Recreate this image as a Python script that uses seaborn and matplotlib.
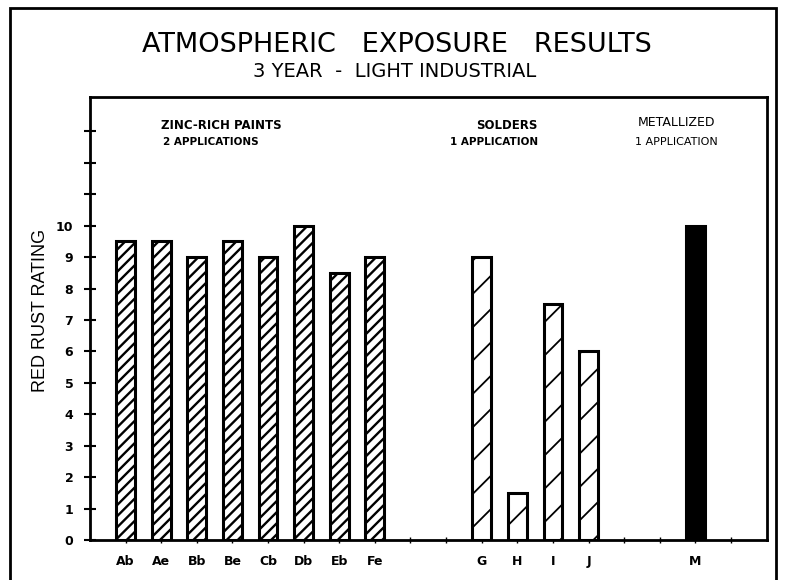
import matplotlib
matplotlib.use("Agg")
import matplotlib.pyplot as plt
import seaborn as sns
import pandas as pd
from matplotlib.patches import Rectangle

# Data
coatings = ["Ab", "Ae", "Bb", "Be", "Cb", "Db", "Eb", "Fe", "G", "H", "I", "J", "M"]
slots = [0, 1, 2, 3, 4, 5, 6, 7, 10, 11, 12, 13, 16]
rating = [9.5, 9.5, 9, 9.5, 9, 10, 8.5, 9, 9, 1.5, 7.5, 6, 10]
group = ["zinc"] * 8 + ["solder"] * 4 + ["metal"]

sns.set_style("ticks")
plt.rcParams["font.family"] = ["DejaVu Sans"]
plt.rcParams["hatch.linewidth"] = 1.7
for k in ["text.color", "axes.labelcolor", "xtick.color", "ytick.color", "axes.edgecolor"]:
    plt.rcParams[k] = "black"

df = pd.DataFrame({"slot": slots, "rating": rating, "coating": coatings, "group": group})

fig = plt.figure(figsize=(7.85, 5.8), dpi=100)
ax = fig.add_axes([0.1146, 0.069, 0.862, 0.764])
sns.barplot(data=df, x="slot", y="rating", native_scale=True, width=0.53,
            color="white", edgecolor="black", linewidth=2.2, errorbar=None, ax=ax)

# hatching per group
for bar, g in zip(ax.patches, group):
    bar.set_facecolor("white")
    if g == "zinc":
        bar.set_hatch("///")
    elif g == "solder":
        bar.set_hatch("/")
        if hasattr(bar, "set_hatch_linewidth"):
            bar.set_hatch_linewidth(1.3)
    else:
        bar.set_facecolor("black")

ax.set_xlim(-1, 18)
ax.set_ylim(0, 14.1)
ax.set_yticks(range(14))
ax.set_yticklabels([str(i) if i <= 10 else "" for i in range(14)],
                   fontweight="bold", fontsize=9)
ax.set_xticks(range(18))
names = dict(zip(slots, coatings))
ax.set_xticklabels([names.get(i, "") for i in range(18)], fontweight="bold", fontsize=9)
ax.tick_params(direction="inout", length=8, width=1.5, pad=8)
ax.tick_params(axis="x", length=5, width=1)
for s in ax.spines.values():
    s.set_linewidth(2)
ax.set_xlabel("")
ax.set_ylabel("")

# group labels
ax.text(2.7, 13.2, "ZINC-RICH PAINTS", ha="center", va="center", fontsize=8.5, fontweight="bold")
ax.text(2.4, 12.66, "2 APPLICATIONS", ha="center", va="center", fontsize=7.5, fontweight="bold")
ax.text(10.7, 13.2, "SOLDERS", ha="center", va="center", fontsize=8.5, fontweight="bold")
ax.text(10.36, 12.66, "1 APPLICATION", ha="center", va="center", fontsize=7.5, fontweight="bold")
ax.text(15.46, 13.27, "METALLIZED", ha="center", va="center", fontsize=9)
ax.text(15.46, 12.66, "1 APPLICATION", ha="center", va="center", fontsize=8)

# titles and y label
fig.text(0.505, 0.922, "ATMOSPHERIC   EXPOSURE   RESULTS", ha="center", va="center",
         fontsize=19.5)
fig.text(0.503, 0.877, "3 YEAR  -  LIGHT INDUSTRIAL", ha="center", va="center",
         fontsize=14)
fig.text(0.052, 0.465, "RED RUST RATING", rotation=90, ha="center", va="center",
         fontsize=13, family="Liberation Sans")

# outer frame
fig.patches.append(Rectangle((0.013, -0.01), 0.976, 0.996, transform=fig.transFigure,
                             fill=False, edgecolor="black", linewidth=2))

fig.savefig("out.png", dpi=100)
